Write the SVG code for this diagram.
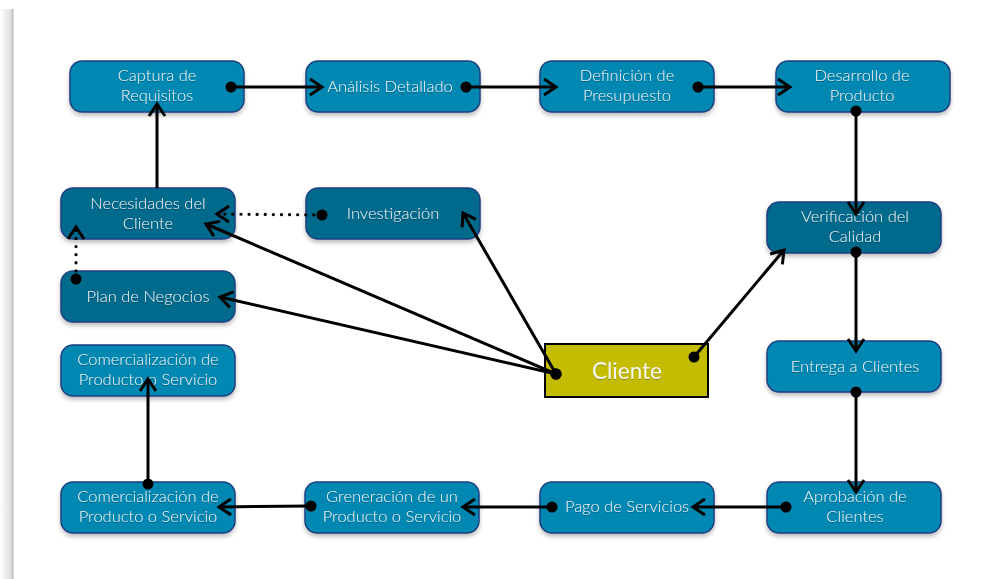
<svg xmlns="http://www.w3.org/2000/svg" width="998" height="579" viewBox="0 0 998 579">
  <defs>
    <linearGradient id="sideShade" x1="0" y1="0" x2="1" y2="0">
      <stop offset="0" stop-color="#ffffff"/>
      <stop offset="0.8" stop-color="#e0e0e0"/>
      <stop offset="1" stop-color="#cccccc"/>
    </linearGradient>
    <filter id="shadow" x="-10%" y="-20%" width="120%" height="150%">
      <feDropShadow dx="0" dy="3" stdDeviation="2" flood-color="#000" flood-opacity="0.25"/>
    </filter>
    <filter id="textShadow" x="-10%" y="-20%" width="120%" height="150%">
      <feDropShadow dx="0" dy="1" stdDeviation="0.6" flood-color="#000" flood-opacity="0.3"/>
    </filter>
    <marker id="arrow" markerUnits="userSpaceOnUse" markerWidth="20" markerHeight="20" refX="0" refY="0" viewBox="-14 -10 16 20" orient="auto">
      <path d="M-12,-8 L0,0 L-12,8" fill="none" stroke="#000" stroke-width="3" stroke-linejoin="miter" stroke-linecap="butt"/>
    </marker>
    <marker id="dot" markerUnits="userSpaceOnUse" markerWidth="14" markerHeight="14" refX="0" refY="0" viewBox="-7 -7 14 14">
      <circle cx="0" cy="0" r="5.5" fill="#000"/>
    </marker>
  </defs>
  <style>
    .box { stroke: #1e3f80; stroke-width: 1.5; filter: url(#shadow); }
    .light { fill: #0088b2; }
    .dark { fill: #006a8c; }
    .lbl { font-family: Lato, "Open Sans", "Liberation Sans", sans-serif; font-weight: 300; font-size: 16.5px; fill: #f4f4f4; text-anchor: middle; filter: url(#textShadow); }
    .link { fill: none; stroke: #000; stroke-width: 3; marker-start: url(#dot); marker-end: url(#arrow); }
    .dotted { stroke-dasharray: 0.1 8; stroke-linecap: round; stroke-width: 3.2; }
  </style>

  <rect width="998" height="579" fill="#ffffff"/>
  <!-- page edge on the left -->
  <rect x="0" y="9" width="13" height="570" fill="url(#sideShade)"/>
  <rect x="12" y="9" width="1.5" height="570" fill="#bdbdbd"/>

  <g id="n-captura"><rect class="box light" x="70" y="61" width="174" height="51" rx="12"/><text class="lbl" x="157" y="81">Captura de</text><text class="lbl" x="157" y="101">Requisitos</text></g>
  <g id="n-analisis"><rect class="box light" x="306" y="61" width="174" height="51" rx="12"/><text class="lbl" x="390" y="92">Análisis Detallado</text></g>
  <g id="n-definicion"><rect class="box light" x="540" y="61" width="174" height="51" rx="12"/><text class="lbl" x="627" y="81">Definición de</text><text class="lbl" x="627" y="101">Presupuesto</text></g>
  <g id="n-desarrollo"><rect class="box light" x="776" y="61" width="174" height="51" rx="12"/><text class="lbl" x="862" y="81">Desarrollo de</text><text class="lbl" x="862" y="101">Producto</text></g>

  <g id="n-necesidades"><rect class="box dark" x="61" y="188" width="174" height="51" rx="12"/><text class="lbl" x="148" y="209">Necesidades del</text><text class="lbl" x="148" y="229">Cliente</text></g>
  <g id="n-investigacion"><rect class="box dark" x="306" y="188" width="174" height="51" rx="12"/><text class="lbl" x="393" y="219">Investigación</text></g>
  <g id="n-verificacion"><rect class="box dark" x="767" y="202" width="174" height="51" rx="12"/><text class="lbl" x="855" y="222">Verificación del</text><text class="lbl" x="855" y="242">Calidad</text></g>
  <g id="n-plan"><rect class="box dark" x="61" y="271" width="174" height="51" rx="12"/><text class="lbl" x="148" y="302">Plan de Negocios</text></g>

  <g id="n-comercial-top"><rect class="box light" x="61" y="345" width="174" height="51" rx="12"/><text class="lbl" x="148" y="365">Comercialización de</text><text class="lbl" x="148" y="385">Producto o Servicio</text></g>
  <g id="n-entrega"><rect class="box light" x="767" y="341" width="174" height="51" rx="12"/><text class="lbl" x="855" y="372">Entrega a Clientes</text></g>

  <g id="n-comercial-bottom"><rect class="box light" x="61" y="482" width="174" height="51" rx="12"/><text class="lbl" x="148" y="502">Comercialización de</text><text class="lbl" x="148" y="522">Producto o Servicio</text></g>
  <g id="n-generacion"><rect class="box light" x="305" y="482" width="174" height="51" rx="12"/><text class="lbl" x="392" y="502">Greneración de un</text><text class="lbl" x="392" y="522">Producto o Servicio</text></g>
  <g id="n-pago"><rect class="box light" x="540" y="482" width="174" height="51" rx="12"/><text class="lbl" x="627" y="512">Pago de Servicios</text></g>
  <g id="n-aprobacion"><rect class="box light" x="767" y="482" width="174" height="51" rx="12"/><text class="lbl" x="855" y="502">Aprobación de</text><text class="lbl" x="855" y="522">Clientes</text></g>

  <g id="n-cliente">
    <rect x="545" y="344" width="163" height="53" fill="#c4bc00" stroke="#000" stroke-width="2"/>
    <text x="627" y="379" font-family="Lato, 'Open Sans', 'Liberation Sans', sans-serif" font-size="22.5" fill="#f6f6f0" text-anchor="middle" filter="url(#textShadow)">Cliente</text>
  </g>

  <g id="connectors">
    <path class="link" d="M231,87 L322,87"/>
    <path class="link" d="M466,87 L556,87"/>
    <path class="link" d="M698,87 L790,87"/>
    <path class="link" d="M856,111 L856,214"/>
    <path class="link" d="M856,252 L856,351"/>
    <path class="link" d="M856,392 L856,492"/>
    <path class="link" d="M786,507 L693,507"/>
    <path class="link" d="M552,507 L463,507"/>
    <path class="link" d="M311,506 L219,507"/>
    <path class="link" d="M148,484 L148,379"/>
    <path class="link" style="marker-start:none" d="M157,188 L157,104"/>
    <path class="link dotted" d="M322,215 L217,214"/>
    <path class="link dotted" d="M76,279 L76,227"/>
    <path class="link" d="M556,374 L206,224"/>
    <path class="link" d="M556,374 L220,297"/>
    <path class="link" d="M556,374 L463,213"/>
    <path class="link" d="M694,357 L784,250"/>
  </g>
</svg>
